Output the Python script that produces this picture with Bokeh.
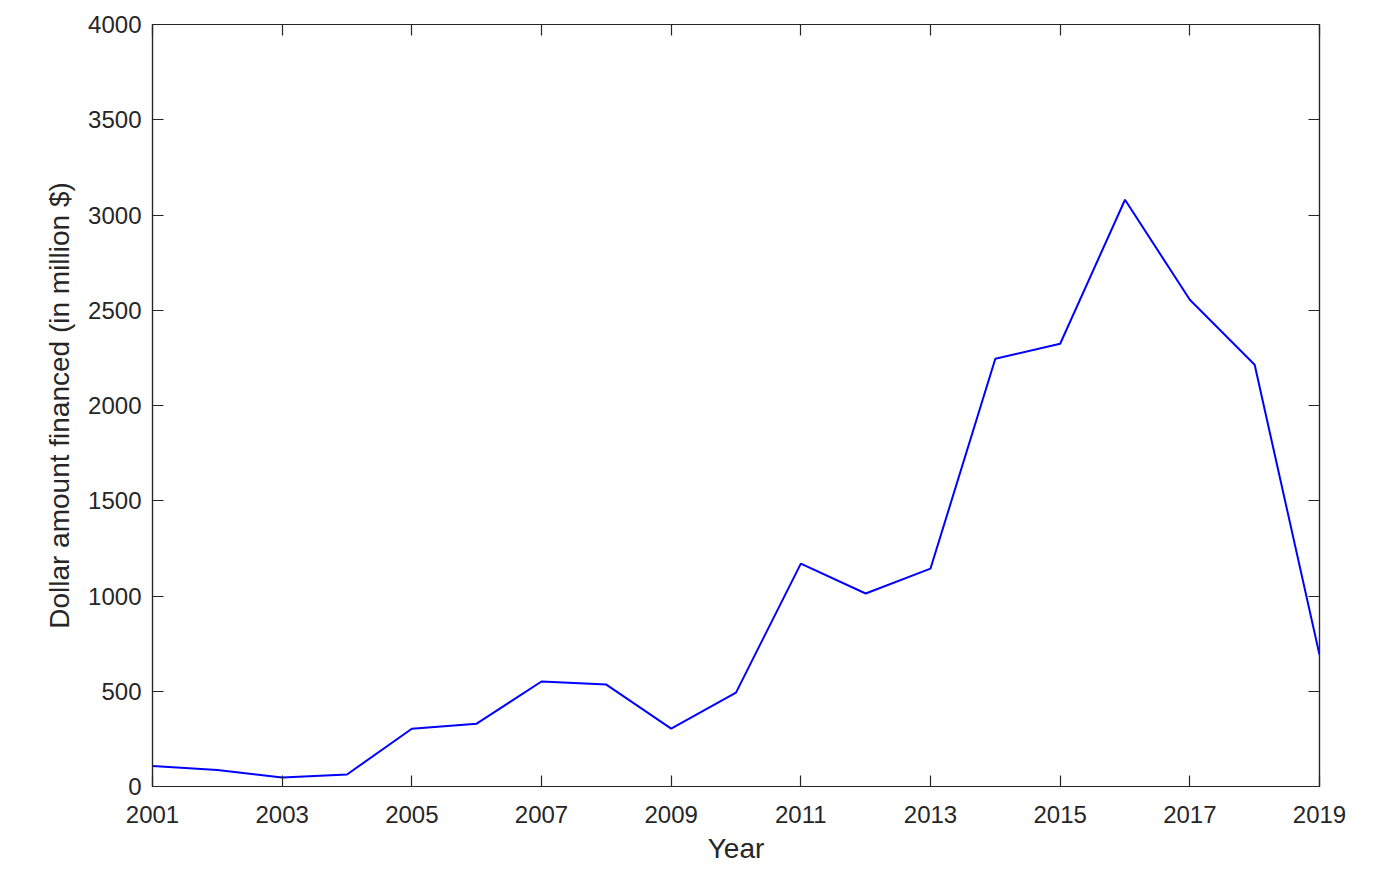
from bokeh.plotting import figure
from bokeh.models import Range1d, LinearAxis, FixedTicker, CustomLabelingPolicy
from bokeh.embed import file_html
from bokeh.resources import INLINE

years = list(range(2001, 2020))
amounts = [108, 87, 47, 63, 303, 330, 551, 535, 304, 493, 1170, 1013, 1144,
           2245, 2324, 3080, 2555, 2214, 691]
x_ticks = list(range(2001, 2020, 2))
y_ticks = list(range(0, 4001, 500))

FONT = "Liberation Sans"
DARK = "#262626"

p = figure(width=1364, height=866, output_backend="svg", toolbar_location=None,
           x_range=Range1d(2001, 2019), y_range=Range1d(0, 4000),
           min_border_left=152, min_border_right=45, min_border_top=24,
           min_border_bottom=80)
p.grid.visible = False
p.outline_line_color = DARK
p.outline_line_width = 1.2

p.line(years, amounts, line_color="#0000FF", line_width=2)

for ax in (p.xaxis[0], p.yaxis[0]):
    ax.major_tick_in = 11
    ax.major_tick_out = 0
    ax.minor_tick_in = 0
    ax.minor_tick_out = 0
    ax.axis_line_color = DARK
    ax.axis_line_width = 1.2
    ax.major_tick_line_color = DARK
    ax.major_tick_line_width = 1.2
    ax.major_label_text_font = FONT
    ax.major_label_text_font_size = "24px"
    ax.major_label_text_color = DARK
    ax.axis_label_text_font = FONT
    ax.axis_label_text_font_size = "28px"
    ax.axis_label_text_font_style = "normal"
    ax.axis_label_text_color = DARK

p.xaxis[0].ticker = FixedTicker(ticks=x_ticks)
p.yaxis[0].ticker = FixedTicker(ticks=y_ticks)
p.xaxis[0].axis_label = "Year"
p.yaxis[0].axis_label = "Dollar amount financed (in million $)"
p.xaxis[0].major_label_standoff = 19
p.yaxis[0].major_label_standoff = 11
p.xaxis[0].axis_label_standoff = 7
p.yaxis[0].axis_label_standoff = 10

hide_labels = CustomLabelingPolicy(code="""
    const ids = [...indices]
    for (const i of ids) indices.unset(i)
    return indices
""")

for loc, ticks in (("above", x_ticks), ("right", y_ticks)):
    ax = LinearAxis(ticker=FixedTicker(ticks=ticks))
    ax.major_tick_in = 11
    ax.major_tick_out = 0
    ax.minor_tick_in = 0
    ax.minor_tick_out = 0
    ax.axis_line_color = DARK
    ax.axis_line_width = 1.2
    ax.major_tick_line_color = DARK
    ax.major_tick_line_width = 1.2
    ax.major_label_policy = hide_labels
    ax.major_label_standoff = 0
    p.add_layout(ax, loc)

open("out.html", "w").write(file_html(p, INLINE))
